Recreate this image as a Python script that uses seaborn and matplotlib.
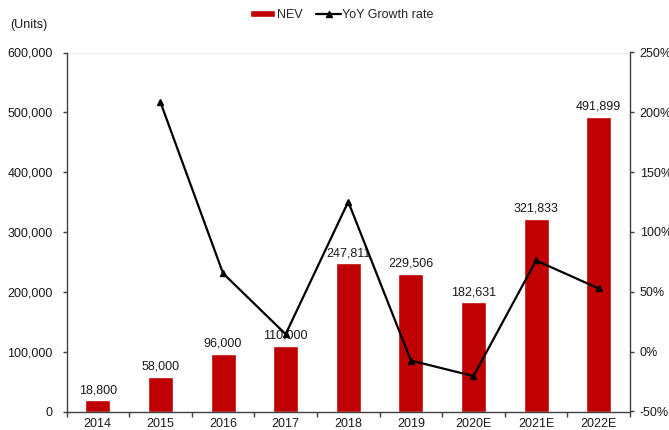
import matplotlib
matplotlib.use("Agg")
import matplotlib.pyplot as plt
import seaborn as sns
import numpy as np
import pandas as pd
from matplotlib.ticker import FuncFormatter, FixedLocator

years = ["2014", "2015", "2016", "2017", "2018", "2019", "2020E", "2021E", "2022E"]
nev_units = [18800, 58000, 96000, 110000, 247811, 229506, 182631, 321833, 491899]
yoy_growth = [None, 208.5, 65.5, 14.6, 125.3, -7.4, -20.4, 76.2, 52.8]

sns.set_theme(style="white")
plt.rcParams["font.family"] = ["Liberation Sans", "DejaVu Sans"]
plt.rcParams["font.size"] = 9
fs = 9

df = pd.DataFrame({"year": years, "units": nev_units})

fig = plt.figure(figsize=(6.69, 4.30), dpi=100)
W, H = 669, 430
x0, x1, y0, y1 = 66.5, 630, 411.5, 52.5
ax = fig.add_axes([x0 / W, 1 - y0 / H, (x1 - x0) / W, (y0 - y1) / H])

axis_color = "#404040"
text_color = "#1a1a1a"

sns.barplot(data=df, x="year", y="units", color="#C00000", width=0.4,
            saturation=1, ax=ax, zorder=2)
bar_handle = ax.patches[0]

for i, v in enumerate(nev_units):
    ax.text(i, v + 7000, f"{v:,}", ha="center", va="bottom", fontsize=fs,
            color=text_color, zorder=5)

ax.set_ylim(0, 600000)
ax.set_xlim(-0.5, len(years) - 0.5)
ax.yaxis.set_major_locator(FixedLocator(np.arange(0, 600001, 100000)))
ax.yaxis.set_major_formatter(FuncFormatter(lambda v, p: f"{int(v):,}"))
ax.set_xlabel("")
ax.set_ylabel("")

# category separators as tick marks on the x axis
ax.xaxis.set_minor_locator(FixedLocator(np.arange(-0.5, len(years), 1.0)))
ax.tick_params(axis="x", which="major", length=0, labelsize=fs, colors=text_color, pad=5)
ax.tick_params(axis="x", which="minor", length=3.5, width=1, color=axis_color, direction="out", bottom=True)
ax.tick_params(axis="y", which="major", length=3, width=1, color=axis_color, direction="out",
               left=True, labelsize=fs, labelcolor=text_color, pad=7)

for s in ["top", "right"]:
    ax.spines[s].set_visible(False)
for s in ["left", "bottom"]:
    ax.spines[s].set_color(axis_color)
    ax.spines[s].set_linewidth(1)

ax.axhline(600000, color="#eeeeee", lw=0.8, zorder=0)

ax2 = ax.twinx()
xs = [i for i, g in enumerate(yoy_growth) if g is not None]
ys = [g for g in yoy_growth if g is not None]
line, = ax2.plot(xs, ys, color="black", lw=1.6, marker="^", markersize=4, zorder=4)
ax2.set_ylim(-50, 250)
ax2.yaxis.set_major_locator(FixedLocator(np.arange(-50, 251, 50)))
ax2.yaxis.set_major_formatter(FuncFormatter(lambda v, p: f"{int(v)}%"))
ax2.tick_params(axis="y", length=3, width=1, color=axis_color, direction="out",
                right=True, labelsize=fs, labelcolor=text_color, pad=4)
for s in ["top", "left", "bottom"]:
    ax2.spines[s].set_visible(False)
ax2.spines["right"].set_color(axis_color)
ax2.spines["right"].set_linewidth(1)
ax2.grid(False)
ax.grid(False)

fig.text(10 / W, 1 - 25 / H, "(Units)", fontsize=fs, color=text_color, ha="left", va="center")

fig.legend([bar_handle, line], ["NEV", "YoY Growth rate"], loc="center",
           bbox_to_anchor=(342 / W, 1 - 15 / H), ncol=2, frameon=False, fontsize=fs,
           handlelength=2.0, handleheight=0.5, columnspacing=1.1, handletextpad=0.1,
           borderpad=0.1)

fig.savefig("out.png", dpi=100)
